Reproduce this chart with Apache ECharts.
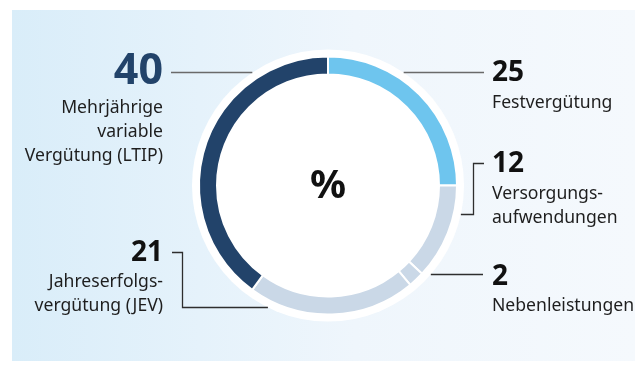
<!DOCTYPE html>
<html>
<head>
<meta charset="utf-8">
<script src="https://cdn.jsdelivr.net/npm/echarts@6/dist/echarts.min.js"></script>
<style>
  html, body { margin: 0; padding: 0; background: #ffffff; }
  #chart { width: 635px; height: 371px; }
</style>
</head>
<body>
<div id="chart"></div>
<script>
// Vergütungsbestandteile in Prozent (clockwise from 12 o'clock)
const categories = [
  'Festvergütung',
  'Versorgungs-\naufwendungen',
  'Nebenleistungen',
  'Jahreserfolgs-\nvergütung (JEV)',
  'Mehrjährige\nvariable\nVergütung (LTIP)'
];
const values = [25, 12, 2, 21, 40];
const sliceColors = ['#6ec5ee', '#cad8e7', '#cad8e7', '#cad8e7', '#22436a'];
const centerLabel = '%';

const FONT = '"Noto Sans", "Open Sans", sans-serif';
const cx = 328, cy = 185.5;
const ringInner = 111, ringOuter = 129, haloR = 136;

// point on the white halo at a given height, on the left or right side
function haloX(y, side) {
  const dy = y - cy;
  return cx + side * Math.sqrt(haloR * haloR - dy * dy);
}

const chart = echarts.init(document.getElementById('chart'), null, { renderer: 'canvas' });

// label blocks: value, name, anchor, leader line
const labelSpecs = [
  { i: 0, side: 1, x: 492, numY: 73, nameTop: 90.6, lineColor: '#6a6a6a',
    line: () => [[haloX(72.5, 1), 72.5], [484, 72.5]] },
  { i: 1, side: 1, x: 492, numY: 164, nameTop: 181.6, lineColor: '#2e2e2e',
    line: () => [[haloX(214.5, 1), 214.5], [473.5, 214.5], [473.5, 163.5], [484, 163.5]] },
  { i: 2, side: 1, x: 492, numY: 277, nameTop: 293.6, lineColor: '#2e2e2e',
    line: () => [[haloX(274.5, 1), 274.5], [483, 274.5]] },
  { i: 3, side: -1, x: 163, numY: 253, nameTop: 269.6, lineColor: '#2e2e2e',
    line: () => [[172, 252.5], [182.5, 252.5], [182.5, 307.5], [haloX(307.5, -1), 307.5]] },
  { i: 4, side: -1, x: 163, numY: 71.6, nameTop: 95.6, lineColor: '#6a6a6a', big: true,
    line: () => [[171, 72.5], [haloX(72.5, -1), 72.5]] }
];

const graphics = [
  {
    type: 'rect', z: -10, silent: true,
    shape: { x: 12, y: 10, width: 623, height: 351 },
    style: {
      fill: new echarts.graphic.LinearGradient(0, 0, 1, 0, [
        { offset: 0, color: '#d9edf9' },
        { offset: 0.3, color: '#e5f2fb' },
        { offset: 0.55, color: '#eff6fc' },
        { offset: 1, color: '#f5f9fd' }
      ])
    }
  },
  {
    type: 'circle', z: -5, silent: true,
    shape: { cx: cx, cy: cy, r: haloR },
    style: { fill: '#ffffff' }
  },
  {
    type: 'text', z: 5, silent: true,
    style: {
      x: cx, y: 187, text: centerLabel, align: 'center', verticalAlign: 'middle',
      font: 'bold 40px ' + FONT, fill: '#111111'
    }
  }
];

labelSpecs.forEach(s => {
  const align = s.side > 0 ? 'left' : 'right';
  graphics.push({
    type: 'polyline', z: -4, silent: true,
    shape: { points: s.line() },
    style: { stroke: s.lineColor, lineWidth: 1.3, fill: null }
  });
  graphics.push({
    type: 'text', silent: true,
    style: {
      x: s.x, y: s.numY, text: String(values[s.i]), align: align, verticalAlign: 'middle',
      font: 'bold ' + (s.big ? 43 : 28) + 'px ' + FONT,
      fill: s.big ? '#22436a' : '#111111'
    }
  });
  graphics.push({
    type: 'text', silent: true,
    style: {
      x: s.x, y: s.nameTop, text: categories[s.i], align: align, verticalAlign: 'top',
      font: '17.6px ' + FONT, lineHeight: 24, fill: '#1e1e1e'
    }
  });
});

chart.setOption({
  animation: false,
  backgroundColor: '#ffffff',
  graphic: { elements: graphics },
  series: [
    {
      type: 'pie',
      z: 2,
      center: [cx, cy],
      radius: [ringInner, ringOuter],
      startAngle: 90,
      clockwise: true,
      silent: true,
      label: { show: false },
      labelLine: { show: false },
      itemStyle: { borderColor: '#ffffff', borderWidth: 2 },
      data: values.map((v, k) => ({
        name: categories[k],
        value: v,
        itemStyle: { color: sliceColors[k] }
      }))
    }
  ]
});
</script>
</body>
</html>
